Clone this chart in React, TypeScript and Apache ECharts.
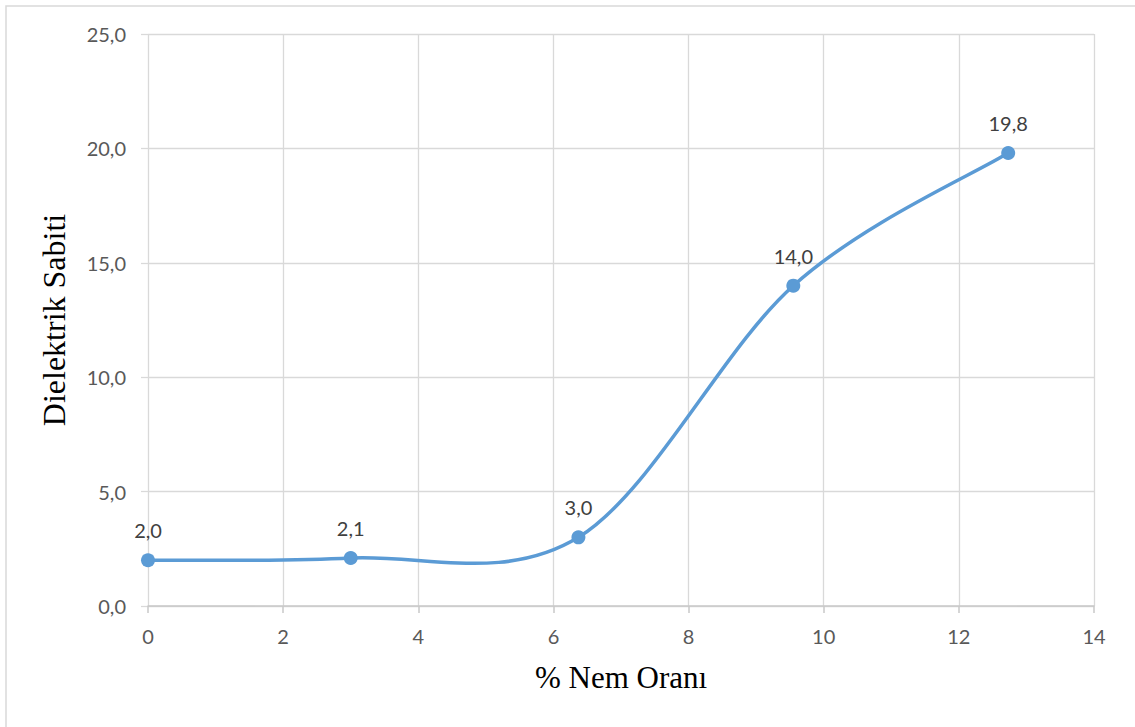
import React, { useEffect, useRef } from "react";
import * as echarts from "echarts";

// Moisture content (%) and measured dielectric constant
const moisture: number[] = [0, 3.0, 6.37, 9.55, 12.73];
const dielectric: number[] = [2.0, 2.1, 3.0, 14.0, 19.8];

const xTitle = "% Nem Oranı";
const yTitle = "Dielektrik Sabiti";

const fmtComma = (v: number) => v.toFixed(1).replace(".", ",");

const lineColor = "#5b9bd5";

// Smoothed segment between point i and i+1 (Catmull-Rom style tangents, 1/6 weight)
function renderSegment(params: any, api: any) {
  const i = params.dataIndex;
  const n = moisture.length;
  if (i >= n - 1) return null;
  const p = (k: number) => {
    const j = Math.max(0, Math.min(n - 1, k));
    return api.coord([moisture[j], dielectric[j]]);
  };
  const p0 = p(i - 1);
  const p1 = p(i);
  const p2 = p(i + 1);
  const p3 = p(i + 2);
  return {
    type: "bezierCurve",
    shape: {
      x1: p1[0],
      y1: p1[1],
      x2: p2[0],
      y2: p2[1],
      cpx1: p1[0] + (p2[0] - p0[0]) / 6,
      cpy1: p1[1] + (p2[1] - p0[1]) / 6,
      cpx2: p2[0] - (p3[0] - p1[0]) / 6,
      cpy2: p2[1] - (p3[1] - p1[1]) / 6,
    },
    style: { stroke: lineColor, lineWidth: 3.5, fill: "none", lineCap: "round" },
    silent: true,
  };
}

export default function App() {
  const ref = useRef<HTMLDivElement>(null);

  useEffect(() => {
    if (!ref.current) return;
    const chart = echarts.init(ref.current, undefined, { renderer: "svg" });
    const gridColor = "#d9d9d9";
    const labelFont = "Lato, 'Open Sans', sans-serif";
    const titleFont = "'Liberation Serif', 'Times New Roman', serif";
    const points = moisture.map((x, i) => [x, dielectric[i]]);
    chart.setOption({
      animation: false,
      backgroundColor: "#ffffff",
      grid: { left: 148, right: 41, top: 34, bottom: 121 },
      graphic: [
        {
          type: "rect",
          shape: { x: 6, y: 6, width: 1140, height: 740 },
          style: { fill: "none", stroke: gridColor, lineWidth: 1.5 },
          silent: true,
        },
      ],
      xAxis: {
        type: "value",
        min: 0,
        max: 14,
        interval: 2,
        name: xTitle,
        nameLocation: "middle",
        nameGap: 56,
        nameTextStyle: { fontFamily: titleFont, fontSize: 31, color: "#000" },
        axisLine: { show: true, lineStyle: { color: "#c8c8c8", width: 1.5 } },
        axisTick: { show: true, length: 7, lineStyle: { color: "#c8c8c8", width: 1.5 } },
        axisLabel: { margin: 20, fontFamily: labelFont, fontSize: 20, color: "#595959" },
        splitLine: { show: true, lineStyle: { color: gridColor, width: 1.3 } },
      },
      yAxis: {
        type: "value",
        min: 0,
        max: 25,
        interval: 5,
        name: yTitle,
        nameLocation: "middle",
        nameGap: 78,
        nameRotate: 90,
        nameTextStyle: { fontFamily: titleFont, fontSize: 32, color: "#000" },
        axisLine: { show: false },
        axisTick: { show: true, length: 7, lineStyle: { color: gridColor, width: 1.3 } },
        axisLabel: {
          margin: 22,
          fontFamily: labelFont,
          fontSize: 20,
          color: "#595959",
          formatter: (v: number) => fmtComma(v),
        },
        splitLine: { show: true, lineStyle: { color: gridColor, width: 1.3 } },
      },
      series: [
        {
          type: "custom",
          data: points,
          renderItem: renderSegment,
          encode: { x: 0, y: 1 },
          z: 2,
        },
        {
          type: "scatter",
          data: points,
          symbol: "circle",
          symbolSize: 14,
          itemStyle: { color: lineColor, opacity: 1 },
          z: 3,
          label: {
            show: true,
            position: "top",
            distance: 13,
            fontFamily: labelFont,
            fontSize: 20,
            color: "#404040",
            formatter: (p: any) => fmtComma(p.value[1]),
          },
        },
      ],
    });
    return () => chart.dispose();
  }, []);

  return (
    <div
      ref={ref}
      style={{ position: "fixed", left: 0, top: 0, width: 1135, height: 727, background: "#fff" }}
    />
  );
}
